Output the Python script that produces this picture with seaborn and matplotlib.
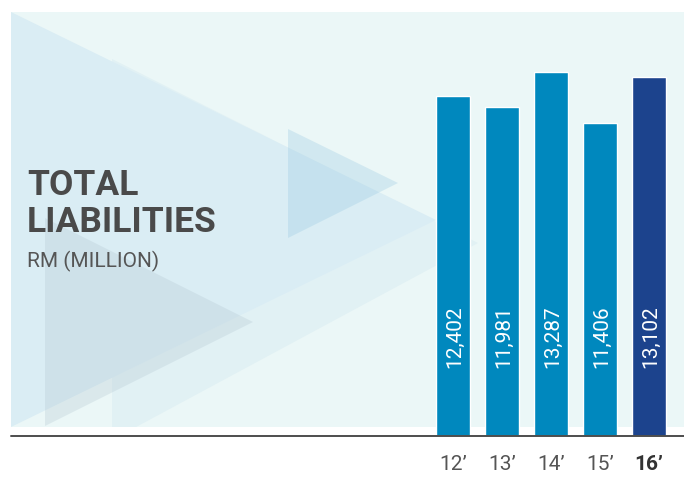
import matplotlib
matplotlib.use("Agg")
import matplotlib.pyplot as plt
from matplotlib.patches import Polygon, Rectangle
import seaborn as sns
import pandas as pd

# Total liabilities, RM million
years = ["12\u2019", "13\u2019", "14\u2019", "15\u2019", "16\u2019"]
values = [12402, 11981, 13287, 11406, 13102]
bar_colors = ["#0088BE", "#0088BE", "#0088BE", "#0088BE", "#1C438D"]

title_lines = ["TOTAL", "LIABILITIES"]
subtitle = "RM (MILLION)"

sns.set_theme(style="white")
plt.rcParams["font.family"] = ["Roboto", "DejaVu Sans"]

W, H = 684, 478
fig = plt.figure(figsize=(W / 100, H / 100), dpi=100)
fig.patch.set_facecolor("white")

# ---- decorative background layer, in pixel coordinates ----
bg = fig.add_axes([0, 0, 1, 1], zorder=0)
bg.set_xlim(0, W)
bg.set_ylim(H, 0)
bg.axis("off")

panel = Rectangle((11, 12), W - 11, 427 - 12, facecolor="#EBF7F7",
                  edgecolor="none", zorder=0)
bg.add_patch(panel)

shapes = [
    # (vertices, colour, alpha, zorder)
    ([(112, 59), (112, 440), (478, 243)], "#E1F1F4", 1.0, 1),
    ([(11, 12), (11, 427), (436, 220)], "#DAEDF4", 1.0, 2),
    ([(45, 218), (45, 426), (253, 322)], "#B4C8D2", 0.30, 3),
    ([(288, 129), (288, 238), (398, 183)], "#96C8E1", 0.30, 4),
]
for verts, col, a, z in shapes:
    tri = Polygon(verts, closed=True, facecolor=col, edgecolor="none",
                  alpha=a, zorder=z)
    bg.add_patch(tri)
    tri.set_clip_path(panel)

bg.text(27, 195, title_lines[0], fontsize=25.5, fontweight="bold",
        color="#4A4A4A", va="baseline", ha="left", zorder=10)
bg.text(27, 232, title_lines[1], fontsize=25.5, fontweight="bold",
        color="#4A4A4A", va="baseline", ha="left", zorder=10)
bg.text(27, 267, subtitle, fontsize=15, fontweight="normal",
        color="#555555", va="baseline", ha="left", zorder=10)

# ---- bar chart layer ----
ax_left, ax_right, ax_top, ax_bottom = 11, W, 12, 436
ax = fig.add_axes([ax_left / W, 1 - ax_bottom / H,
                   (ax_right - ax_left) / W, (ax_bottom - ax_top) / H],
                  zorder=1)
ax.set_facecolor("none")

df = pd.DataFrame({"year": years, "value": values})
sns.barplot(data=df, x="year", y="value", hue="year", order=years,
            hue_order=years, palette=bar_colors, saturation=1,
            width=34 / 49, legend=False, ax=ax, zorder=5)

px_per_cat = 49
x0 = -(453 - ax_left) / px_per_cat
ax.set_xlim(x0, x0 + (ax_right - ax_left) / px_per_cat)
units_per_px = 36.47
ax.set_ylim(0, (ax_bottom - ax_top) * units_per_px)

for i, v in enumerate(values):
    ax.text(i + 0.03, 68 * units_per_px, f"{v:,}", rotation=90,
            ha="center", va="bottom", color="white", fontsize=15,
            fontweight="normal", zorder=6)

ax.axhline(0, color="#4D4D4D", lw=1.4, zorder=7, clip_on=False)

ax.set_xticks(range(len(years)))
ax.set_xticklabels(years, fontsize=15, color="#555555", fontweight="normal")
lbls = ax.get_xticklabels()
lbls[-1].set_fontweight("bold")
lbls[-1].set_color("#333333")
ax.tick_params(axis="x", length=0, pad=14)
ax.set_yticks([])
ax.set_xlabel("")
ax.set_ylabel("")
for s in ax.spines.values():
    s.set_visible(False)

fig.savefig("out.png", dpi=100, facecolor="white")
